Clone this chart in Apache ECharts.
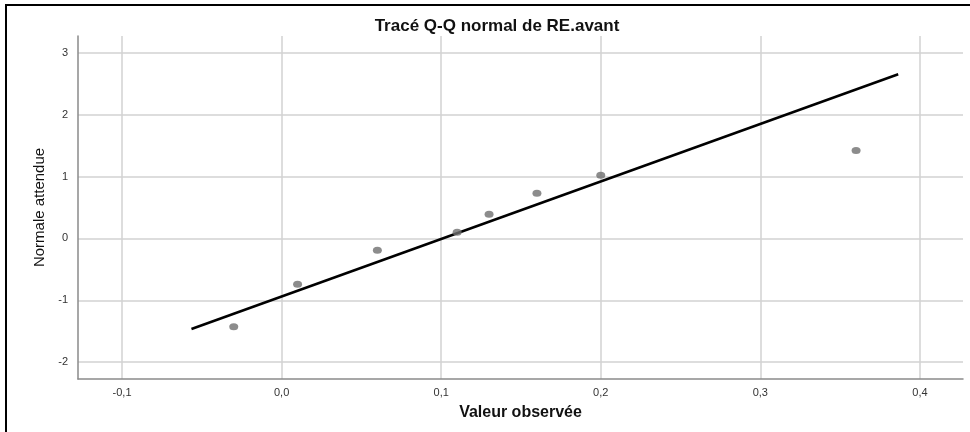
<!DOCTYPE html>
<html>
<head>
<meta charset="utf-8">
<script src="https://cdn.jsdelivr.net/npm/echarts@6/dist/echarts.min.js"></script>
<style>
  html, body { margin: 0; padding: 0; background: #fff; }
  #qqChart { width: 970px; height: 432px; }
</style>
</head>
<body>
<div id="qqChart"></div>
<script>
const observed = [-0.03, 0.01, 0.06, 0.11, 0.13, 0.16, 0.20, 0.36];
const expected = [-1.43, -0.74, -0.19, 0.10, 0.39, 0.73, 1.02, 1.42];
// reference line end points
const lineX = [-0.0565, 0.3864];
const lineY = [-1.465, 2.653];

const chart = echarts.init(document.getElementById('qqChart'), null, { renderer: 'canvas' });

const pts = observed.map((v, i) => [v, expected[i]]);
const linePts = lineX.map((v, i) => [v, lineY[i]]);

const option = {
  animation: false,
  backgroundColor: '#fff',
  title: {
    text: 'Tracé Q-Q normal de RE.avant',
    left: 492,
    textAlign: 'center',
    top: 13,
    textStyle: { fontFamily: 'Liberation Sans', fontSize: 17, fontWeight: 'bold', color: '#111' },
  },
  graphic: [{
    type: 'rect',
    shape: { x: 6, y: 5, width: 1000, height: 1000 },
    style: { fill: 'none', stroke: '#000', lineWidth: 2 },
    silent: true,
  }],
  grid: { left: 78, top: 36, right: 7, bottom: 53 },
  xAxis: {
    type: 'value',
    min: -0.1276,
    max: 0.427,
    splitNumber: 5,
    name: 'Valeur observée',
    nameLocation: 'middle',
    nameGap: 26,
    nameTextStyle: { fontFamily: 'Liberation Sans', fontSize: 16, fontWeight: 'bold', color: '#111' },
    axisLine: { onZero: false, lineStyle: { color: '#8a8a8a', width: 1.5 } },
    axisTick: { show: false },
    axisLabel: {
      showMinLabel: false, showMaxLabel: false,
      fontFamily: 'Liberation Sans', fontSize: 11, color: '#333', margin: 8,
      formatter: (v) => v.toFixed(1).replace('.', ','),
    },
    splitLine: { show: true, showMinLine: false, showMaxLine: false, lineStyle: { color: '#d2d2d2', width: 1.5 } },
  },
  yAxis: {
    type: 'value',
    min: -2.273,
    max: 3.272,
    splitNumber: 5,
    name: 'Normale attendue',
    nameLocation: 'middle',
    nameGap: 31,
    nameTextStyle: { fontFamily: 'Liberation Sans', fontSize: 15, color: '#111' },
    axisLine: { show: true, onZero: false, lineStyle: { color: '#8a8a8a', width: 1.5 } },
    axisTick: { show: false },
    axisLabel: {
      showMinLabel: false, showMaxLabel: false,
      fontFamily: 'Liberation Sans', fontSize: 11, color: '#333', margin: 10,
    },
    splitLine: { show: true, showMinLine: false, showMaxLine: false, lineStyle: { color: '#d2d2d2', width: 1.5 } },
  },
  series: [
    {
      type: 'line',
      data: linePts,
      symbol: 'none',
      lineStyle: { color: '#000', width: 2.5 },
      z: 3,
    },
    {
      type: 'scatter',
      data: pts,
      symbol: 'circle',
      symbolSize: [9, 7],
      itemStyle: { color: '#6f6f6f' },
      z: 4,
    },
  ],
};

chart.setOption(option);
</script>
</body>
</html>
